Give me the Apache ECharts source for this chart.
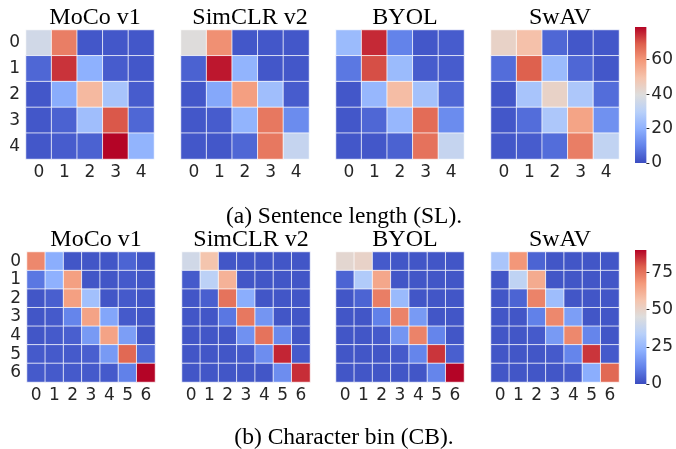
<!DOCTYPE html>
<html><head><meta charset="utf-8">
<script src="https://cdn.jsdelivr.net/npm/echarts@6/dist/echarts.min.js"></script>
<style>html,body{margin:0;padding:0;background:#fff}#c{width:676px;height:449px}</style>
</head><body><div id="c"></div>
<script>
const methods = ['MoCo v1', 'SimCLR v2', 'BYOL', 'SwAV'];
const slLabels = ['0','1','2','3','4'];
const cbLabels = ['0','1','2','3','4','5','6'];
const slTicks = [0, 20, 40, 60];
const cbTicks = [0, 25, 50, 75];
const slMax = 79;
const cbMax = 90;
const captionA = '(a) Sentence length (SL).';
const captionB = '(b) Character bin (CB).';

// Sentence length confusion matrices (rows = true, cols = predicted)
const slMoco = [
  [36, 64, 2, 2, 2],
  [5, 74, 20, 3, 2],
  [2, 19, 52, 26, 3],
  [2, 4, 24, 70, 5],
  [2, 3, 4, 79, 21]
];
const slSimclr = [
  [40, 61, 2, 2, 2],
  [4, 77, 21, 2, 2],
  [2, 18, 58, 24, 3],
  [2, 3, 21, 65, 12],
  [2, 2, 5, 65, 33]
];
const slByol = [
  [23, 75, 10, 2, 3],
  [8, 71, 23, 3, 3],
  [2, 22, 51, 25, 5],
  [2, 5, 22, 67, 12],
  [2, 2, 4, 66, 33]
];
const slSwav = [
  [44, 50, 5, 2, 2],
  [6, 69, 23, 5, 2],
  [2, 26, 44, 27, 6],
  [2, 6, 27, 57, 13],
  [2, 3, 6, 64, 32]
];
// Character bin confusion matrices
const cbMoco = [
  [71, 22, 2, 2, 2, 5, 2],
  [9, 23, 66, 2, 2, 3, 2],
  [2, 4, 66, 28, 2, 3, 2],
  [2, 3, 12, 65, 20, 3, 2],
  [2, 3, 4, 17, 65, 18, 2],
  [3, 3, 3, 4, 17, 77, 6],
  [3, 3, 3, 3, 3, 11, 90]
];
const cbSimclr = [
  [41, 56, 2, 2, 2, 2, 2],
  [3, 35, 61, 2, 2, 2, 2],
  [2, 4, 75, 22, 2, 2, 2],
  [2, 2, 9, 74, 16, 2, 2],
  [2, 2, 2, 15, 75, 13, 2],
  [2, 2, 2, 3, 14, 86, 3],
  [2, 2, 2, 2, 2, 14, 85]
];
const cbByol = [
  [48, 50, 3, 2, 2, 2, 2],
  [5, 32, 64, 2, 2, 2, 2],
  [2, 5, 73, 26, 2, 2, 2],
  [2, 2, 11, 72, 17, 2, 2],
  [2, 2, 3, 16, 72, 12, 2],
  [2, 2, 2, 3, 12, 84, 4],
  [2, 2, 2, 2, 2, 12, 90]
];
const cbSwav = [
  [30, 68, 5, 2, 2, 2, 2],
  [2, 36, 63, 2, 2, 2, 2],
  [2, 5, 72, 27, 2, 2, 2],
  [2, 2, 11, 71, 18, 2, 2],
  [2, 2, 3, 17, 71, 12, 2],
  [2, 2, 2, 3, 12, 84, 3],
  [2, 2, 2, 2, 3, 22, 77]
];

const coolwarm = ['#3b4cc0','#6282ea','#8db0fe','#b8d0f9','#dddddd','#f5c4ad','#f49a7b','#de604d','#b40426'];

const slMats = [slMoco, slSimclr, slByol, slSwav];
const cbMats = [cbMoco, cbSimclr, cbByol, cbSwav];

const topLefts = [26, 181, 336, 491];
const botLefts = [27, 182, 336, 491];
const W = 128;
const tickFont = {fontFamily: 'DejaVu Sans', fontSize: 17, color: '#262626'};
const serif = 'Liberation Serif';

function toData(m) {
  const d = [];
  m.forEach((row, r) => row.forEach((v, c) => d.push([c, r, v])));
  return d;
}

const grid = [], xAxis = [], yAxis = [], series = [], title = [];
let gi = 0;
function addPanel(left, top, h, mat, labels, showY, name) {
  grid.push({left: left, top: top, width: W, height: h});
  xAxis.push({type: 'category', gridIndex: gi, data: labels, axisLine: {show: false}, axisTick: {show: false},
    splitLine: {show: false}, axisLabel: Object.assign({margin: 5, interval: 0}, tickFont)});
  yAxis.push({type: 'category', gridIndex: gi, data: labels, inverse: true, axisLine: {show: false}, axisTick: {show: false},
    splitLine: {show: false}, axisLabel: Object.assign({show: showY, margin: 6, interval: 0}, tickFont)});
  series.push({type: 'heatmap', xAxisIndex: gi, yAxisIndex: gi, data: toData(mat),
    itemStyle: {borderColor: 'rgba(255,255,255,0.75)', borderWidth: 1}, emphasis: {disabled: true}});
  title.push({text: name, left: left + W / 2, top: top - 29, textAlign: 'center',
    textStyle: {fontFamily: serif, fontSize: 24, fontWeight: 'normal', color: '#000'}});
  gi++;
}
methods.forEach((m, i) => addPanel(topLefts[i], 30, 129, slMats[i], slLabels, i === 0, m));
methods.forEach((m, i) => addPanel(botLefts[i], 252, 130, cbMats[i], cbLabels, i === 0, m));

function gradient() {
  return new echarts.graphic.LinearGradient(0, 1, 0, 0,
    coolwarm.map((c, i) => ({offset: i / (coolwarm.length - 1), color: c})));
}
function addColorbar(top, h, max, ticks) {
  grid.push({left: 635, top: top, width: 12, height: h});
  xAxis.push({type: 'category', gridIndex: gi, data: ['c'], show: false});
  yAxis.push({type: 'value', gridIndex: gi, min: 0, max: max, position: 'right',
    axisLine: {show: false}, splitLine: {show: false},
    axisTick: {show: true, length: 3, lineStyle: {color: '#262626'}, customValues: ticks},
    axisLabel: Object.assign({margin: 5, customValues: ticks}, tickFont)});
  series.push({type: 'bar', xAxisIndex: gi, yAxisIndex: gi, data: [max], barWidth: '100%',
    itemStyle: {color: gradient()}, silent: true});
  gi++;
}
addColorbar(27, 136, slMax, slTicks);
addColorbar(250, 134, cbMax, cbTicks);

title.push({text: captionA, left: 339, top: 200, textAlign: 'center',
  textStyle: {fontFamily: serif, fontSize: 23.5, fontWeight: 'normal', color: '#000'}});
title.push({text: captionB, left: 339, top: 421, textAlign: 'center',
  textStyle: {fontFamily: serif, fontSize: 23.5, fontWeight: 'normal', color: '#000'}});

const chart = echarts.init(document.getElementById('c'), null, {renderer: 'canvas'});
chart.setOption({
  animation: false,
  backgroundColor: '#fff',
  title: title,
  grid: grid,
  xAxis: xAxis,
  yAxis: yAxis,
  visualMap: [
    {type: 'continuous', show: false, min: 0, max: slMax, seriesIndex: [0,1,2,3], inRange: {color: coolwarm}},
    {type: 'continuous', show: false, min: 0, max: cbMax, seriesIndex: [4,5,6,7], inRange: {color: coolwarm}}
  ],
  series: series
});
</script></body></html>
